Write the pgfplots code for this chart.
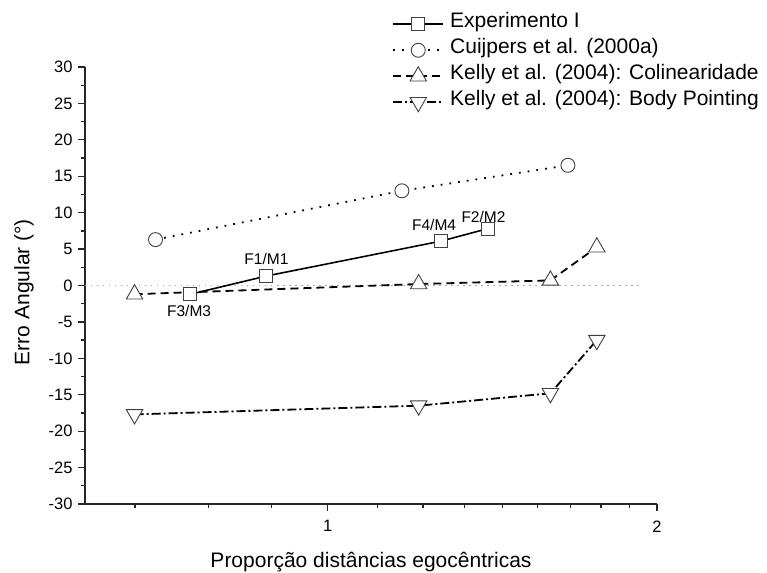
\documentclass[border=0pt]{standalone}
\usepackage{fontspec}
\setmainfont{Liberation Sans}
\usepackage{pgfplots}
\pgfplotsset{compat=1.18}

\begin{document}
\begin{tikzpicture}
\useasboundingbox (-85pt,-68pt) rectangle (682pt,504pt);
\begin{axis}[
    at={(0pt,0pt)}, anchor=south west,
    scale only axis,
    width=572pt, height=437pt,
    xmode=log,
    xmin=0.6, xmax=2,
    ymin=-30, ymax=30,
    axis x line=bottom, axis y line=left,
    axis line style={-, line width=1.8pt, black!85},
    tick style={line width=1.3pt, black!85},
    tick align=outside,
    major tick length=7pt, minor tick length=4pt,
    xtick={1,2}, xticklabels={1,2},
    minor xtick={0.6667,0.7778,0.8889,1.1111,1.2222,1.3333,1.4444,1.5556,1.6667,1.7778,1.8889},
    ytick={-30,-25,...,30},
    minor y tick num=1,
    /pgf/number format/assume math mode=true,
    tick label style={font=\fontsize{16.5}{16.5}\selectfont},
    yticklabel style={xshift=-2pt},
    xticklabel style={yshift=-6pt},
    xlabel={Proporção distâncias egocêntricas},
    ylabel={Erro Angular (°)},
    label style={font=\fontsize{21}{21}\selectfont},
    x label style={at={(axis description cs:0.5,0)}, anchor=base, yshift=-63pt},
    y label style={at={(axis description cs:-0.1066,0.485)}, anchor=center, rotate=0},
    legend style={draw=none, fill=none,
        at={(axis description cs:0.537,1.128)}, anchor=north west,
        font=\fontsize{21}{21}\selectfont,
        row sep=0pt, column sep=6pt, inner sep=0pt,
        nodes={inner sep=0pt, text height=16pt, text depth=10pt, anchor=west}},
    legend cell align=left,
    legend image code/.code={\draw[#1, mark repeat=2, mark phase=2]
        plot coordinates {(0pt,0pt) (25pt,0pt) (50pt,0pt)};},
    clip=false,
]

% linha do zero
\addplot[gray!70, line width=1pt, dash pattern=on 1.5pt off 4.5pt, forget plot]
    coordinates {(0.6,0) (1.93,0)};

% Experimento I
\addplot[black, line width=1.6pt, mark=square*,
    mark options={solid, fill=white, draw=black!75, line width=0.9pt}, mark size=6.5pt]
    coordinates {(0.749,-1.2) (0.879,1.3) (1.270,6.1) (1.400,7.8)};

% Cuijpers et al. (2000a)
\addplot[black, line width=1.8pt, dash pattern=on 1.8pt off 7pt, mark=*,
    mark options={solid, fill=white, draw=black!75, line width=0.9pt}, mark size=7pt]
    coordinates {(0.696,6.3) (1.169,13.0) (1.658,16.5)};

% Kelly et al. (2004): Colinearidade
\addplot[black, line width=1.8pt, dash pattern=on 8pt off 5pt, mark=triangle*,
    mark options={solid, fill=white, draw=black!75, line width=0.9pt}, mark size=9.5pt]
    coordinates {(0.666,-1.2) (1.211,0.2) (1.598,0.7) (1.762,5.25)};

% Kelly et al. (2004): Body Pointing
\addplot[black, line width=1.8pt, dash pattern=on 9pt off 3pt on 2pt off 3pt, mark=triangle*,
    mark options={solid, fill=white, draw=black!75, line width=0.9pt, rotate=180}, mark size=9.5pt]
    coordinates {(0.666,-17.7) (1.211,-16.5) (1.598,-14.8) (1.762,-7.5)};

\legend{Experimento I, Cuijpers et al. (2000a), Kelly et al. (2004): Colinearidade, Kelly et al. (2004): Body Pointing}

\node[font=\fontsize{15.5}{15.5}\selectfont] at (axis cs:0.879,3.6) {F1/M1};
\node[font=\fontsize{15.5}{15.5}\selectfont] at (axis cs:0.747,-3.5) {F3/M3};
\node[font=\fontsize{15.5}{15.5}\selectfont] at (axis cs:1.251,8.3) {F4/M4};
\node[font=\fontsize{15.5}{15.5}\selectfont] at (axis cs:1.388,9.45) {F2/M2};

\end{axis}
\end{tikzpicture}
\end{document}
